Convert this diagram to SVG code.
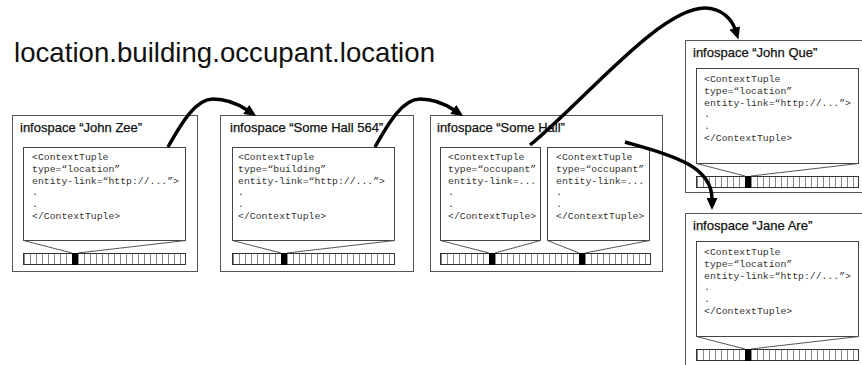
<svg xmlns="http://www.w3.org/2000/svg" width="862" height="365" viewBox="0 0 862 365">
<defs>
<pattern id="cells" width="6" height="12" patternUnits="userSpaceOnUse"><rect width="6" height="12" fill="#fff"/><rect width="1" height="12" fill="#8a8a8a"/></pattern>
<marker id="ah" markerUnits="userSpaceOnUse" markerWidth="13" markerHeight="11" refX="1" refY="5.5" orient="auto"><path d="M0,0 L12,5.5 L0,11 z" fill="#000"/></marker>
</defs>
<style>
.box{fill:#fff;stroke:#555;stroke-width:1}
.inner{fill:#fff;stroke:#444;stroke-width:1}
.title{font-family:"Liberation Sans",Arial,sans-serif;font-size:13px;fill:#111;stroke:#111;stroke-width:0.25}
.main{font-family:"Liberation Sans",Arial,sans-serif;font-size:27.6px;fill:#111}
.code{font-family:"Liberation Mono","Courier New",monospace;font-size:9.8px;fill:#333}
.funnel{stroke:#555;fill:none;stroke-width:1}
.cells{fill:url(#cells)}
.sb{fill:none;stroke:#333;stroke-width:1}
.blk{fill:#000}
.arrow{fill:none;stroke:#000;stroke-width:3.5;marker-end:url(#ah)}
</style>
<rect width="862" height="365" fill="#fff"/>
<text class="main" x="14" y="62" textLength="421" lengthAdjust="spacing">location.building.occupant.location</text>

<g id="john-zee">
<rect class="box" x="12.5" y="115.5" width="185" height="156"/>
<text class="title" x="20" y="132">infospace “John Zee”</text>
<rect class="inner" x="23.5" y="147.5" width="162" height="93"/>
<text class="code" y="160"><tspan x="32">&lt;ContextTuple</tspan><tspan x="32" dy="11.8">type=“location”</tspan><tspan x="32" dy="11.8">entity-link=“http://...”&gt;</tspan><tspan x="32" dy="11.8">.</tspan><tspan x="32" dy="11.8">.</tspan><tspan x="32" dy="11.8">&lt;/ContextTuple&gt;</tspan></text>
<path class="funnel" d="M23.5,240.5 L72,253 M185.5,240.5 L78,253"/>
<g transform="translate(24,253)"><rect class="cells" width="162" height="12"/><rect class="sb" x="-0.5" y="0.5" width="162" height="11"/><rect class="blk" x="48" width="6" height="12"/></g>
</g>

<g id="some-hall-564">
<rect class="box" x="220.5" y="115.5" width="193" height="156"/>
<text class="title" x="230" y="132">infospace “Some Hall 564”</text>
<rect class="inner" x="232.5" y="147.5" width="162" height="93"/>
<text class="code" y="160"><tspan x="238">&lt;ContextTuple</tspan><tspan x="238" dy="11.8">type=“building”</tspan><tspan x="238" dy="11.8">entity-link=“http://...”&gt;</tspan><tspan x="238" dy="11.8">.</tspan><tspan x="238" dy="11.8">.</tspan><tspan x="238" dy="11.8">&lt;/ContextTuple&gt;</tspan></text>
<path class="funnel" d="M232.5,240.5 L281,253 M394.5,240.5 L287,253"/>
<g transform="translate(233,253)"><rect class="cells" width="162" height="12"/><rect class="sb" x="-0.5" y="0.5" width="162" height="11"/><rect class="blk" x="48" width="6" height="12"/></g>
</g>

<g id="some-hall">
<rect class="box" x="430.5" y="115.5" width="232" height="156"/>
<text class="title" x="437" y="132">infospace “Some Hall”</text>
<rect class="inner" x="440.5" y="147.5" width="100" height="93"/>
<text class="code" y="160"><tspan x="448">&lt;ContextTuple</tspan><tspan x="448" dy="11.8">type=“occupant”</tspan><tspan x="448" dy="11.8">entity-link=...</tspan><tspan x="448" dy="11.8">.</tspan><tspan x="448" dy="11.8">.</tspan><tspan x="448" dy="11.8">&lt;/ContextTuple&gt;</tspan></text>
<rect class="inner" x="547.5" y="147.5" width="102" height="93"/>
<text class="code" y="160"><tspan x="556">&lt;ContextTuple</tspan><tspan x="556" dy="11.8">type=“occupant”</tspan><tspan x="556" dy="11.8">entity-link=...</tspan><tspan x="556" dy="11.8">.</tspan><tspan x="556" dy="11.8">.</tspan><tspan x="556" dy="11.8">&lt;/ContextTuple&gt;</tspan></text>
<path class="funnel" d="M440.5,240.5 L489,253 M540.5,240.5 L495,253 M547.5,240.5 L579,253 M649.5,240.5 L585,253"/>
<g transform="translate(441,253)"><rect class="cells" width="210" height="12"/><rect class="sb" x="-0.5" y="0.5" width="210" height="11"/><rect class="blk" x="48" width="6" height="12"/><rect class="blk" x="138" width="6" height="12"/></g>
</g>

<g id="john-que">
<rect class="box" x="685.5" y="40.5" width="200" height="152"/>
<text class="title" x="693" y="57">infospace “John Que”</text>
<rect class="inner" x="696.5" y="68.5" width="162" height="95"/>
<text class="code" y="82"><tspan x="704">&lt;ContextTuple</tspan><tspan x="704" dy="11.8">type=“location”</tspan><tspan x="704" dy="11.8">entity-link=“http://...”&gt;</tspan><tspan x="704" dy="11.8">.</tspan><tspan x="704" dy="11.8">.</tspan><tspan x="704" dy="11.8">&lt;/ContextTuple&gt;</tspan></text>
<path class="funnel" d="M696.5,163.5 L745,176 M858.5,163.5 L751,176"/>
<g transform="translate(697,176)"><rect class="cells" width="162" height="12"/><rect class="sb" x="-0.5" y="0.5" width="162" height="11"/><rect class="blk" x="48" width="6" height="12"/></g>
</g>

<g id="jane-are">
<rect class="box" x="685.5" y="213.5" width="200" height="160"/>
<text class="title" x="693" y="230">infospace “Jane Are”</text>
<rect class="inner" x="696.5" y="241.5" width="162" height="95"/>
<text class="code" y="255"><tspan x="704">&lt;ContextTuple</tspan><tspan x="704" dy="11.8">type=“location”</tspan><tspan x="704" dy="11.8">entity-link=“http://...”&gt;</tspan><tspan x="704" dy="11.8">.</tspan><tspan x="704" dy="11.8">.</tspan><tspan x="704" dy="11.8">&lt;/ContextTuple&gt;</tspan></text>
<path class="funnel" d="M696.5,336.5 L745,349 M858.5,336.5 L751,349"/>
<g transform="translate(697,349)"><rect class="cells" width="162" height="12"/><rect class="sb" x="-0.5" y="0.5" width="162" height="11"/><rect class="blk" x="48" width="6" height="12"/></g>
</g>

<g id="connectors">
<path class="arrow" d="M168,147 C182,122 196,99 213,99 C227,99 238,104 247,110"/>
<path class="arrow" d="M375,147 C389,122 403,99 420,99 C434,99 445,104 454,110"/>
<path class="arrow" d="M530,145 C585,100 660,8 705,8 C722,8 732,20 735,29"/>
<path class="arrow" d="M625,142 C670,155 712,165 712,199"/>
</g>
</svg>
